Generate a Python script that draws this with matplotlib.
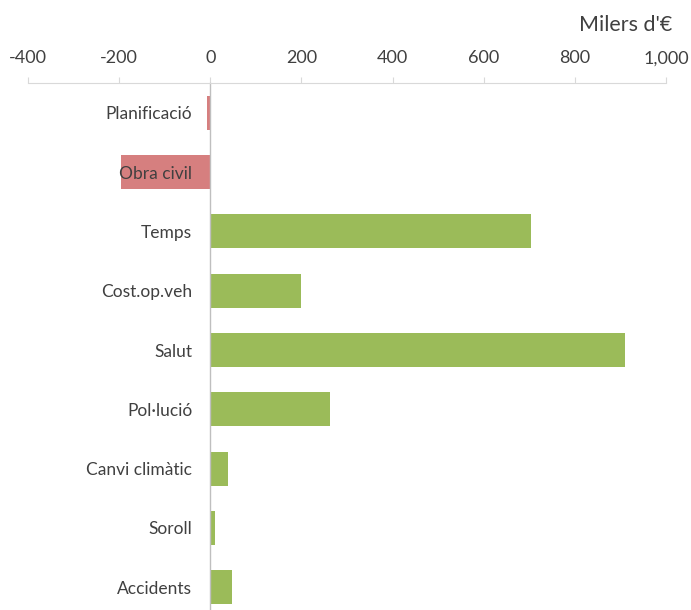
import matplotlib
matplotlib.use("Agg")
import matplotlib.pyplot as plt
import numpy as np

# Beneficis i costos per categoria (milers d'€)
categories = ["Planificació", "Obra civil", "Temps", "Cost.op.veh", "Salut",
              "Pol·lució", "Canvi climàtic", "Soroll", "Accidents"]
values = [-7, -195, 703, 198, 911, 262, 38, 10, 48]
x_ticks = [-400, -200, 0, 200, 400, 600, 800, 1000]
x_tick_labels = ["-400", "-200", "0", "200", "400", "600", "800", "1,000"]
unit_label = "Milers d'€"

NEG_COLOR = "#d67f7f"
POS_COLOR = "#9bbb59"
TEXT_COLOR = "#404040"
GRID_COLOR = "#d9d9d9"

plt.rcParams["font.family"] = ["Lato", "DejaVu Sans"]

fig = plt.figure(figsize=(6.91, 6.10), dpi=100)
W, H = 691, 610
ax_left, ax_right = 28, 666
ax_top, ax_bottom = 83, 617
ax = fig.add_axes([ax_left / W, 1 - ax_bottom / H,
                   (ax_right - ax_left) / W, (ax_bottom - ax_top) / H])

y = np.arange(len(categories))
colors = [NEG_COLOR if v < 0 else POS_COLOR for v in values]
ax.barh(y, values, height=0.57, color=colors, zorder=1)

ax.set_xlim(-400, 1000)
ax.set_ylim(len(categories) - 0.5, -0.5)

# eix de valors a dalt
ax.xaxis.tick_top()
ax.set_xticks(x_ticks)
ax.set_xticklabels(x_tick_labels, fontsize=13, color=TEXT_COLOR)
ax.tick_params(axis="x", direction="out", length=4, width=0.8,
               color=GRID_COLOR, pad=8)

# eix de categories a zero
ax.spines["left"].set_position(("data", 0))
ax.spines["left"].set_color("#bfbfbf")
ax.spines["left"].set_linewidth(1.0)
ax.spines["top"].set_color(GRID_COLOR)
ax.spines["top"].set_linewidth(0.8)
ax.spines["right"].set_visible(False)
ax.spines["bottom"].set_visible(False)

ax.set_yticks(y)
ax.set_yticklabels(categories, fontsize=12.5, color=TEXT_COLOR)
ax.tick_params(axis="y", length=0, pad=13)

fig.text(672 / W, 1 - 25 / H, unit_label, ha="right", va="center",
         fontsize=15.5, color=TEXT_COLOR)

fig.savefig("out.png", dpi=100)
